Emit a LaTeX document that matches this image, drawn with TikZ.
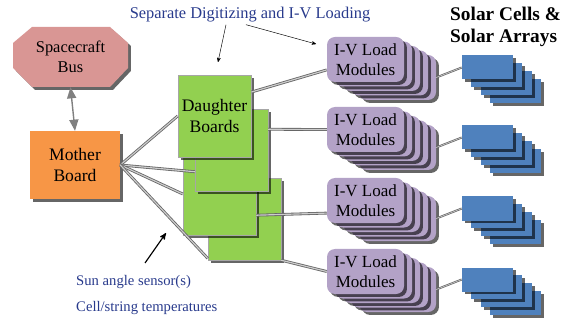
\documentclass[tikz,border=0pt]{standalone}
\usepackage{fontspec}
\setmainfont{Liberation Serif}
\usetikzlibrary{calc}
\usetikzlibrary{arrows}
\usetikzlibrary{shadows}

\definecolor{busred}{RGB}{217,150,148}
\definecolor{mborange}{RGB}{247,150,70}
\definecolor{dbgreen}{RGB}{146,208,80}
\definecolor{ivpurple}{RGB}{179,162,199}
\definecolor{cellblue}{RGB}{79,129,189}
\definecolor{notetext}{RGB}{40,58,140}

\tikzset{
  dshadow/.style={drop shadow={shadow xshift=2.5pt, shadow yshift=-2.5pt, fill=black, opacity=.6}},
  bus/.style={minimum width=3.45cm, minimum height=1.8cm, align=center,
    font=\fontsize{14}{17}\selectfont},
  mboard/.style={fill=mborange, dshadow, minimum width=2.7cm, minimum height=2.04cm, align=center,
    font=\fontsize{15}{18}\selectfont},
  board/.style={draw=black!35, fill=dbgreen, dshadow, minimum width=2.19cm, minimum height=2.46cm,
    align=center, font=\fontsize{15}{18.5}\selectfont},
  ivmod/.style={fill=ivpurple, rounded corners=.24cm, dshadow, minimum width=2.31cm, minimum height=1.35cm,
    align=center, font=\fontsize{14.5}{17}\selectfont},
  cell/.style={fill=cellblue, dshadow, minimum width=1.53cm, minimum height=.72cm},
  link/.style={draw=black!60, double=black!20, double distance=1pt, line width=.7pt},
  thinlink/.style={draw=black!60, double=black!20, double distance=.5pt, line width=.6pt},
  note/.style={text=notetext, inner sep=0pt, font=\fontsize{12.5}{15}\selectfont}
}

\begin{document}
\begin{tikzpicture}[x=.03cm, y=-.03cm]
\useasboundingbox (0,0) rectangle (571,320);

% bus (octagon) and mother board
\fill[busred, dshadow] (13,43) -- (32,27) -- (110,27) -- (128,43) -- (128,68)
  -- (110,87) -- (32,87) -- (13,68) -- cycle;
\node[bus] (bus) at (70.5,57) {Spacecraft\\Bus};
\node[mboard] (mother) at (75,165) {Mother\\Board};
\draw[black!50, line width=1.2pt, <->, >=triangle 45] (bus.south) -- (mother.north);

% daughter boards, back to front
\node[board] (d4) at (244.5,219) {};
\node[board] (d3) at (219.5,194) {};
\node[board] (d2) at (231.5,150.5) {};
\node[board] (d1) at (214.5,116) {Daughter\\Boards};

% I-V load modules and the solar cells behind them
\foreach \n/\y in {1/59.5, 2/129.5, 3/200.5, 4/271.5}{
  \foreach \i in {4,...,1}
    \node[ivmod] (m\n-\i) at (365.5+8*\i, \y+4.5*\i) {};
  \node[ivmod] (m\n) at (365.5,\y) {I-V Load\\Modules};
  \foreach \i in {3,...,1}
    \node[cell] (p\n-\i) at (487.5+9.3*\i, \y+8+7.7*\i) {};
  \node[cell] (p\n) at (487.5,\y+8) {};
  \draw[thinlink] (m\n-4.east) -- (p\n.west);
}

\draw[link] (mother.east) -- (d1.west);
\draw[link] (mother.east) -- (d2.210);
\draw[link] (mother.east) -- (d3.west);
\draw[link] (mother.east) -- (d4.227);

\draw[link] (d1.33) -- (m1.195);
\draw[link] (d2.30) -- (m2.west);
\draw[link] (d3.-30) -- (m3.198);
\draw[link] (d4.south east) -- (m4.west);

% labels
\node[note, font=\fontsize{14}{16}\selectfont] (title) at (250,15) {Separate Digitizing and I-V Loading};
\coordinate (dbtip) at (218,62);
\coordinate (ivtip) at (316,44);
\draw[->, >=stealth'] ($(title.south)+(-24,2)$) -- (dbtip);
\draw[->, >=stealth'] ($(title.south)+(-4,2)$) -- (ivtip);

\node[anchor=west, align=left, inner sep=0pt, font=\fontsize{16.5}{19}\selectfont\bfseries] (solar) at (450,27) {Solar Cells \&\\Solar Arrays};

\node[note, anchor=west] (sun) at (76,282) {Sun angle sensor(s)};
\node[note, anchor=west] (temps) at (76,308) {Cell/string temperatures};
\coordinate (sunfrom) at (145,263);
\coordinate (sunto) at (166,233);
\draw[->, >=stealth', line width=1pt] (sunfrom) -- (sunto);
\end{tikzpicture}
\end{document}
